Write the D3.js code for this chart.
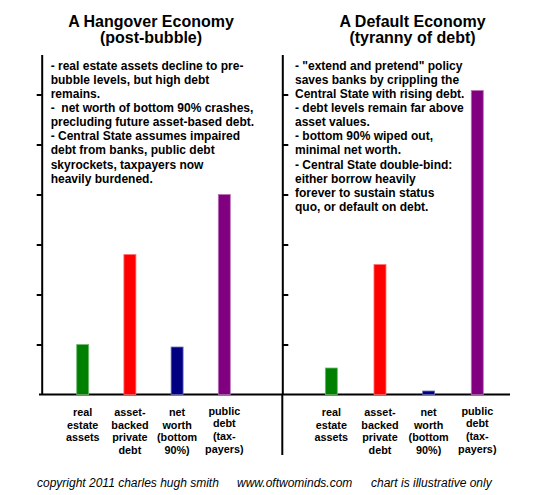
<!DOCTYPE html>
<html>
<head>
<meta charset="utf-8">
<script src="https://cdn.jsdelivr.net/npm/d3@7"></script>
<style>
  body { margin: 0; background: #fff; }
  svg { display: block; }
  text { font-family: "Liberation Sans", Arial, Helvetica, sans-serif; fill: #000; }
</style>
</head>
<body>
<svg id="chart" width="545" height="495"></svg>
<script>
// categories (one array of lines per bar label)
var categoryLines = [
    ["real", "estate", "assets"],
    ["asset-", "backed", "private", "debt"],
    ["net", "worth", "(bottom", "90%)"],
    ["public", "debt", "(tax-", "payers)"]
];
var categoryKeys = ["real estate", "private debt", "net worth", "public debt"];
var barColors = ["#008000", "#ff0000", "#000080", "#800080"];

// series values
var hangoverValues = [1.0, 2.8, 0.95, 4.0];
var defaultValues = [0.53, 2.6, 0.07, 6.08];

var tickValues = [1, 2, 3, 4, 5, 6];

var hangoverTitle = ["A Hangover Economy", "(post-bubble)"];
var defaultTitle = ["A Default Economy", "(tyranny of debt)"];

var hangoverNotes = [
    "- real estate assets decline to pre-",
    "bubble levels, but high debt",
    "remains.",
    "-  net worth of bottom 90% crashes,",
    "precluding future asset-based debt.",
    "- Central State assumes impaired",
    "debt from banks, public debt",
    "skyrockets, taxpayers now",
    "heavily burdened."
];
var defaultNotes = [
    "- \"extend and pretend\" policy",
    "saves banks by crippling the",
    "Central State with rising debt.",
    "- debt levels remain far above",
    "asset values.",
    "- bottom 90% wiped out,",
    "minimal net worth.",
    "- Central State double-bind:",
    "either borrow heavily",
    "forever to sustain status",
    "quo, or default on debt."
];

var footer = [
    { text: "copyright 2011 charles hugh smith", x: 37 },
    { text: "www.oftwominds.com", x: 237 },
    { text: "chart is illustrative only", x: 371 }
];

var svg = d3.select("#chart");

var baseY = 394.5;
var y = d3.scaleLinear().domain([0, 6.8]).range([baseY, 54.5]);

var panels = [
    { title: hangoverTitle, notes: hangoverNotes, values: hangoverValues,
      axisX: 41.7, titleX: 151, notesX: 50.7, range: [59.1, 247.9], side: "left" },
    { title: defaultTitle, notes: defaultNotes, values: defaultValues,
      axisX: 282.3, titleX: 412.5, notesX: 295, range: [307, 501.6], side: "right" }
];

// baseline shared by both panels
svg.append("line")
    .attr("x1", 39).attr("x2", 510)
    .attr("y1", baseY).attr("y2", baseY)
    .attr("stroke", "#000").attr("stroke-width", 2);

// right axis runs on below the baseline
svg.append("line")
    .attr("x1", 282.3).attr("x2", 282.3)
    .attr("y1", baseY).attr("y2", 455)
    .attr("stroke", "#000").attr("stroke-width", 2);

panels.forEach(function (p) {
    var x = d3.scalePoint().domain(categoryKeys).range(p.range).padding(0.5);

    // y axis
    var axis = (p.side === "left" ? d3.axisLeft(y) : d3.axisRight(y))
        .tickValues(tickValues)
        .tickSize(p.side === "left" ? 5 : 6)
        .tickSizeOuter(0)
        .tickFormat("");
    var g = svg.append("g")
        .attr("transform", "translate(" + p.axisX + ",0)")
        .call(axis);
    g.select(".domain").attr("stroke-width", 2);
    g.selectAll(".tick line").attr("stroke-width", 2);

    // bars
    svg.append("g").selectAll("rect")
        .data(p.values)
        .join("rect")
        .attr("x", function (d, i) { return x(categoryKeys[i]) - 6; })
        .attr("width", 12)
        .attr("y", function (d) { return y(d); })
        .attr("height", function (d) { return baseY - y(d); })
        .attr("fill", function (d, i) { return barColors[i]; })
        .attr("stroke", function (d, i) { return d3.interpolateRgb(barColors[i], "#fff")(0.45); })
        .attr("stroke-width", 0.8);

    // category labels
    var labels = svg.append("g").selectAll("text")
        .data(categoryLines)
        .join("text")
        .attr("text-anchor", "middle")
        .attr("font-size", "10.8px")
        .attr("font-weight", "bold")
        .attr("y", function (d, i) { return i === 3 ? 414.8 : 416; });
    labels.selectAll("tspan")
        .data(function (d, i) { return d.map(function (s) { return { s: s, i: i }; }); })
        .join("tspan")
        .attr("x", function (d) { return x(categoryKeys[d.i]); })
        .attr("dy", function (d, j) { return j === 0 ? 0 : 12.6; })
        .text(function (d) { return d.s; });

    // title
    svg.append("g").selectAll("text")
        .data(p.title)
        .join("text")
        .attr("x", p.titleX)
        .attr("y", function (d, i) { return 27 + i * 16.2; })
        .attr("text-anchor", "middle")
        .attr("font-size", "16px")
        .attr("font-weight", "bold")
        .text(function (d) { return d; });

    // notes
    svg.append("g").selectAll("text")
        .data(p.notes)
        .join("text")
        .attr("x", p.notesX)
        .attr("y", function (d, i) { return 69.5 + i * 14.15; })
        .attr("font-size", "12px")
        .attr("font-weight", "bold")
        .attr("xml:space", "preserve")
        .style("white-space", "pre")
        .text(function (d) { return d; });
});

// footer
svg.append("g").selectAll("text")
    .data(footer)
    .join("text")
    .attr("x", function (d) { return d.x; })
    .attr("y", 487)
    .attr("font-size", "12px")
    .attr("font-style", "italic")
    .text(function (d) { return d.text; });
</script>
</body>
</html>
